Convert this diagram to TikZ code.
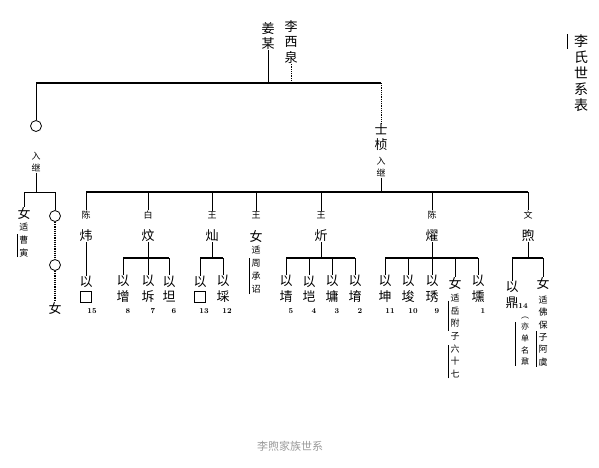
\documentclass[tikz,border=0pt]{standalone}
\usepackage{fontspec}
\newfontfamily\cjk{Noto Sans CJK SC}
\tikzset{
  big/.style={font=\cjk\fontsize{13}{15.5}\selectfont, inner sep=0pt, align=center},
  small/.style={font=\cjk\fontsize{9}{12.7}\selectfont, inner sep=0pt, align=center},
  num/.style={font=\fontsize{7.5}{8}\selectfont\bfseries, inner sep=0pt},
  ring/.style={circle, draw, line width=0.8pt, minimum size=11pt, inner sep=0pt},
  blank/.style={rectangle, draw, line width=0.8pt, minimum size=11pt, inner sep=0pt},
  hbar/.style={line width=1.2pt},
}
\begin{document}
\begin{tikzpicture}[x=1pt,y=-1pt,line width=0.8pt]
        \useasboundingbox (0,0) rectangle (599,467);
        \def\ytop{83} \def\ymid{192} \def\ysub{258}

        % title and caption
        \node (title) at (581,73) [big,font=\cjk\fontsize{14}{16}\selectfont] {李\\氏\\世\\系\\表};
        \draw ([xshift=-6pt]title.north west) -- ([xshift=-6pt,yshift=-15pt]title.north west);
        \node (caption) at (290,446) [inner sep=0pt,text=gray!80,font=\cjk\fontsize{11}{11}\selectfont] {李煦家族世系};

        % first generation
        \node (jiang) at (268,36) [big] {姜\\某};
        \node (li) at (291,42) [big] {李\\西\\泉};
        \coordinate (topl) at (36,\ytop);
        \coordinate (topr) at (381,\ytop);
        \draw[hbar] (topl) -- (topr);
        \draw (jiang) -- (jiang |- topl);
        \draw[densely dotted] (li) -- (li |- topl);

        % left branch
        \node (o1) at (36,126) [ring] {};
        \node (rjl) at (36,162) [small] {入\\继};
        \draw (topl) -- (o1);
        \coordinate (barl) at (36,\ymid);
        \draw (rjl) -- (barl);
        \node (nv1) at (24,213) [big] {女};
        \node (cao) at (24,240) [small] {适\\曹\\寅};
        \draw ([xshift=-2pt]cao.south west) -- ([xshift=-2pt,yshift=-11pt]cao.north west);
        \node (o2) at (55,216) [ring] {};
        \node (o3) at (55,265) [ring] {};
        \node (nv2) at (55,308) [big] {女};
        \draw (nv1 |- barl) -- (o2 |- barl);
        \draw (nv1 |- barl) -- (nv1);
        \draw (o2 |- barl) -- (o2);
        \draw[densely dotted,line width=1.2pt] (o2) -- (o3);
        \draw[densely dotted,line width=1.2pt] (o3) -- (nv2);

        % shizhen
        \node (shi) at (381,137) [big] {士\\桢};
        \node (rjr) at (381,167) [small] {入\\继};
        \draw[densely dotted] (topr) -- (shi);
        \coordinate (bar) at (381,\ymid);
        \draw (rjr) -- (bar);

        % second generation
        \foreach \n/\x/\t/\m in {chen/86/陈/炜, bai/148/白/炆, wangc/212/王/灿, wangn/256/王/女, wangx/321/王/炘, cheny/432/陈/燿, wen/528/文/煦} {
          \node (t\n) at (\x,215) [small] {\t};
          \node (\n) at (\x,236) [big] {\m};
          \draw (t\n |- bar) -- (t\n);
        }
        \draw[hbar] (tchen |- bar) -- (twen |- bar);
        \node (zhou) at (256,270) [small,font=\cjk\fontsize{9}{13}\selectfont] {适\\周\\承\\诏};
        \draw ([xshift=-2pt]zhou.south west) -- ([xshift=-2pt,yshift=-12pt]zhou.north west);

        % chen wei
        \node (yia) at (86,282) [big] {以};
        \node (boxa) at (86,297) [blank] {};
        \node (ka) at (92,311) [num] {15};
        \draw (chen) -- (yia);

        % bai wen
        \foreach \n/\x/\t/\k in {zeng/123/增/8, che/148/坼/7, tan/169/坦/6} {
          \node (\n) at (\x,289) [big] {以\\\t};
          \node (k\n) at (\x+5,311) [num] {\k};
          \draw (\n |- 0,\ysub) -- (\n);
        }
        \draw (bai) -- (bai |- 0,\ysub);
        \draw[hbar] (zeng |- 0,\ysub) -- (tan |- 0,\ysub);

        % wang can
        \node (yib) at (200,282) [big] {以};
        \node (boxb) at (200,297) [blank] {};
        \node (kb) at (204,311) [num] {13};
        \node (cai) at (223,289) [big] {以\\埰};
        \node (kcai) at (227,311) [num] {12};
        \draw (wangc) -- (wangc |- 0,\ysub);
        \draw[hbar] (yib |- 0,\ysub) -- (cai |- 0,\ysub);
        \draw (yib |- 0,\ysub) -- (yib);
        \draw (cai |- 0,\ysub) -- (cai);

        % wang xin
        \foreach \n/\x/\t/\k in {jing/286/埥/5, kai/309/垲/4, yong/332/墉/3, yu/355/堉/2} {
          \node (\n) at (\x,289) [big] {以\\\t};
          \node (k\n) at (\x+5,311) [num] {\k};
          \draw (\n |- 0,\ysub) -- (\n);
        }
        \draw (wangx) -- (wangx |- 0,\ysub);
        \draw[hbar] (jing |- 0,\ysub) -- (yu |- 0,\ysub);

        % chen yao
        \foreach \n/\x/\t/\k in {kun/385/坤/11, jun/408/埈/10, xiu/432/琇/9, xun/478/壎/1} {
          \node (\n) at (\x,289) [big] {以\\\t};
          \node (k\n) at (\x+5,311) [num] {\k};
          \draw (\n |- 0,\ysub) -- (\n);
        }
        \node (nv3) at (455,283) [big] {女};
        \node (yue) at (455,336) [small] {适\\岳\\附\\子\\六\\十\\七};
        \draw ([xshift=-1.5pt,yshift=-7pt]yue.north west) -- ([xshift=-1.5pt,yshift=-37pt]yue.north west);
        \draw ([xshift=-1.5pt]yue.south west) -- ([xshift=-1.5pt,yshift=33pt]yue.south west);
        \draw (nv3 |- 0,\ysub) -- (nv3);
        \draw (cheny) -- (cheny |- 0,\ysub);
        \draw[hbar] (kun |- 0,\ysub) -- (xun |- 0,\ysub);

        % wen xu
        \node (ding) at (512,295) [big] {以\\鼎};
        \node (kding) at (523,306) [num] {14};
        \node (nai) at (525,341) [small,font=\cjk\fontsize{8}{11.7}\selectfont] {︵\\亦\\单\\名\\鼐};
        \draw ([xshift=-5pt,yshift=-6pt]nai.north west) -- ([xshift=-5pt]nai.south west);
        \node (nv4) at (543,283) [big] {女};
        \node (fo) at (543,331) [small,font=\cjk\fontsize{9}{12.4}\selectfont] {适\\佛\\保\\子\\阿\\虞};
        \draw ([xshift=-1.5pt]fo.south west) -- ([xshift=-1.5pt,yshift=36pt]fo.south west);
        \draw (wen) -- (wen |- 0,\ysub);
        \draw[hbar] (ding |- 0,\ysub) -- (nv4 |- 0,\ysub);
        \draw (ding |- 0,\ysub) -- (ding);
        \draw (nv4 |- 0,\ysub) -- (nv4);
      \end{tikzpicture}
\end{document}
